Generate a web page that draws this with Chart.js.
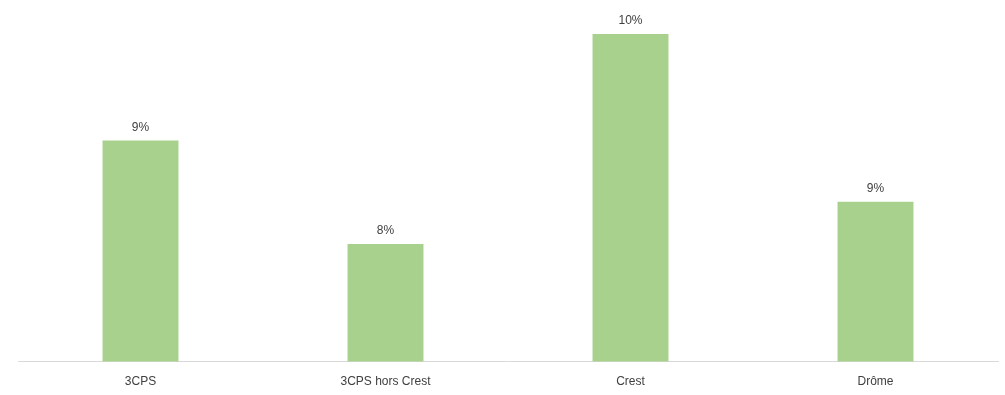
<!DOCTYPE html>
<html>
<head>
<meta charset="utf-8">
<script src="https://cdn.jsdelivr.net/npm/chart.js@4/dist/chart.umd.min.js"></script>
<style>
  html, body { margin: 0; padding: 0; background: #fff; overflow: hidden; }
  #wrap { width: 1005px; height: 395px; position: relative; }
</style>
</head>
<body>
<div id="wrap"><canvas id="canvas"></canvas></div>
<script>
const categories = ['3CPS', '3CPS hors Crest', 'Crest', 'Drôme'];
const values = [9.2, 8.17, 10.26, 8.59];
const valueLabels = ['9%', '8%', '10%', '9%'];

// draws the % labels above each bar
const barLabels = {
  id: 'barLabels',
  afterDatasetsDraw(chart) {
    const ctx = chart.ctx;
    const meta = chart.getDatasetMeta(0);
    ctx.save();
    ctx.font = '12px "Liberation Sans", Arial, sans-serif';
    ctx.fillStyle = '#404040';
    ctx.textAlign = 'center';
    ctx.textBaseline = 'bottom';
    meta.data.forEach((bar, i) => {
      ctx.fillText(valueLabels[i], bar.x, bar.y - 7);
    });
    ctx.restore();
  }
};

new Chart(document.getElementById('canvas'), {
  type: 'bar',
  data: {
    labels: categories,
    datasets: [
      {
        data: values,
        backgroundColor: '#A9D18E',
        categoryPercentage: 1,
        barPercentage: 0.31
      }
    ]
  },
  options: {
    responsive: true,
    maintainAspectRatio: false,
    animation: false,
    layout: { padding: { left: 18, right: 7, top: 10, bottom: -7 } },
    plugins: {
      legend: { display: false },
      tooltip: { enabled: false }
    },
    scales: {
      x: {
        grid: { display: false, drawTicks: false },
        border: { color: '#d9d9d9', width: 1 },
        ticks: {
          color: '#404040',
          font: { size: 12, family: '"Liberation Sans", Arial, sans-serif' },
          padding: 13
        }
      },
      y: {
        display: false,
        min: 7,
        max: 10.5
      }
    }
  },
  plugins: [barLabels]
});
</script>
</body>
</html>
